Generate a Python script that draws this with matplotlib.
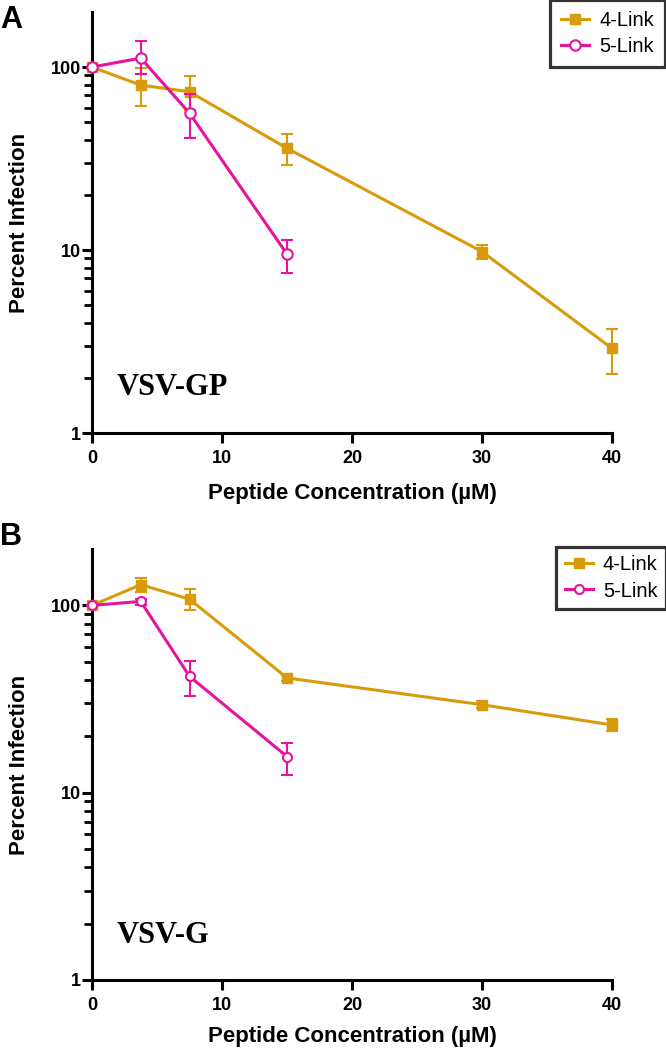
import matplotlib
matplotlib.use("Agg")
import matplotlib.pyplot as plt
from matplotlib.lines import Line2D
from matplotlib.ticker import NullFormatter, FixedLocator, FixedFormatter

# ---------------- data ----------------
conc4 = [0, 3.75, 7.5, 15, 30, 40]
conc5 = [0, 3.75, 7.5, 15]

# Panel A (VSV-GP): mean, lower and upper error limits
a4_mean = [100, 79.7, 73.3, 36, 9.8, 2.9]
a4_lo   = [100, 61, 58, 29, 8.9, 2.1]
a4_hi   = [100, 99, 89, 43, 10.7, 3.7]
a5_mean = [100, 112, 56, 9.5]
a5_lo   = [100, 92, 41, 7.5]
a5_hi   = [100, 139, 71, 11.3]

# Panel B (VSV-G)
b4_mean = [100, 129, 108, 41, 29.5, 23]
b4_lo   = [100, 118, 95, 39.5, 28.3, 21.3]
b4_hi   = [100, 140, 122, 42.5, 30.7, 24.7]
b5_mean = [100, 105, 41.8, 15.6]
b5_lo   = [100, 100, 32.7, 12.5]
b5_hi   = [100, 108, 50.6, 18.5]

series_names = ["4-Link", "5-Link"]
panel_tags = ["VSV-GP", "VSV-G"]
panel_letters = ["A", "B"]
xticks = [0, 10, 20, 30, 40]
yticks = [1, 10, 100]
yminor = [2, 3, 4, 5, 6, 7, 8, 9, 20, 30, 40, 50, 60, 70, 80, 90]

GOLD = "#D99A0B"
MAG = "#E8139C"

W, H = 666, 1050
fig = plt.figure(figsize=(W / 100, H / 100), dpi=100)

def fx(px):
    return px / W

def fy(py):
    return 1 - py / H

SANS = ["Liberation Sans", "DejaVu Sans"]
SERIF = ["Liberation Serif", "DejaVu Serif"]

panels = [
    dict(top=12, bottom=433, d4=(a4_mean, a4_lo, a4_hi), d5=(a5_mean, a5_lo, a5_hi),
         leg=(665, 0), letter_y=5, tag_xy=(1.92, 1.61), circ=7.5, pad=0.55, xlpad=12),
    dict(top=549, bottom=980, d4=(b4_mean, b4_lo, b4_hi), d5=(b5_mean, b5_lo, b5_hi),
         leg=(666, 547), letter_y=522, tag_xy=(1.92, 1.57), circ=6.5, pad=0.42, xlpad=9),
]

for i, p in enumerate(panels):
    left, right = 92, 612
    ax = fig.add_axes([fx(left), fy(p["bottom"]), fx(right - left), (p["bottom"] - p["top"]) / H])
    ax.set_yscale("log")
    ax.set_xlim(0, 40)
    ax.set_ylim(1, 200)

    m4, l4, h4 = p["d4"]
    m5, l5, h5 = p["d5"]
    e4 = [[m - l for m, l in zip(m4, l4)], [h - m for m, h in zip(m4, h4)]]
    e5 = [[m - l for m, l in zip(m5, l5)], [h - m for m, h in zip(m5, h5)]]

    ax.errorbar(conc4, m4, yerr=e4, color=GOLD, lw=2.2, marker="s", ms=7.3,
                mfc=GOLD, mec=GOLD, capsize=4.3, capthick=1.5, elinewidth=1.5,
                clip_on=False, zorder=3)
    ax.errorbar(conc5, m5, yerr=e5, color=MAG, lw=2.2, marker="o", ms=p["circ"],
                mfc="white", mec=MAG, mew=1.5, capsize=4.3, capthick=1.5, elinewidth=1.5,
                clip_on=False, zorder=4)

    for s in ["top", "right"]:
        ax.spines[s].set_visible(False)
    for s in ["left", "bottom"]:
        ax.spines[s].set_linewidth(2.2)
        ax.spines[s].set_color("black")

    ax.xaxis.set_major_locator(FixedLocator(xticks))
    ax.xaxis.set_major_formatter(FixedFormatter([str(t) for t in xticks]))
    ax.yaxis.set_major_locator(FixedLocator(yticks))
    ax.yaxis.set_major_formatter(FixedFormatter([str(t) for t in yticks]))
    ax.yaxis.set_minor_locator(FixedLocator(yminor))
    ax.yaxis.set_minor_formatter(NullFormatter())
    ax.xaxis.set_minor_locator(FixedLocator([]))

    ax.tick_params(axis="x", which="major", direction="out", length=7, width=2.2, pad=5)
    ax.tick_params(axis="y", which="major", direction="out", length=7, width=2.2, pad=1)
    ax.tick_params(axis="y", which="minor", direction="out", length=5.5, width=2.0)
    for lab in ax.get_xticklabels() + ax.get_yticklabels():
        lab.set_fontfamily(SANS)
        lab.set_fontweight("bold")
        lab.set_fontsize(13)

    ax.set_xlabel("Peptide Concentration (µM)", fontsize=16, fontweight="bold",
                  family=SANS, labelpad=p["xlpad"])
    ax.set_ylabel("Percent Infection", fontsize=16, fontweight="bold", family=SANS)
    ax.yaxis.set_label_coords(-0.119, 0.5)

    ax.text(p["tag_xy"][0], p["tag_xy"][1], panel_tags[i], fontsize=22,
            fontweight="bold", family=SERIF, ha="left", va="baseline")

    fig.text(fx(0), fy(p["letter_y"]), panel_letters[i], fontsize=22,
             fontweight="bold", family=SANS, ha="left", va="top")

    handles = [
        Line2D([], [], color=GOLD, lw=2.2, marker="s", ms=7.3, mfc=GOLD, mec=GOLD),
        Line2D([], [], color=MAG, lw=2.2, marker="o", ms=p["circ"], mfc="white",
               mec=MAG, mew=1.5),
    ]
    leg = fig.legend(handles, series_names, loc="upper right",
                     bbox_to_anchor=(fx(p["leg"][0]), fy(p["leg"][1])),
                     prop={"family": SANS, "size": 14.5}, frameon=True,
                     fancybox=False, edgecolor="black", handlelength=1.4,
                     borderpad=p["pad"], labelspacing=0.35, handletextpad=0.5,
                     borderaxespad=0)
    leg.get_frame().set_linewidth(2.3)

fig.savefig("out.png", dpi=100)
